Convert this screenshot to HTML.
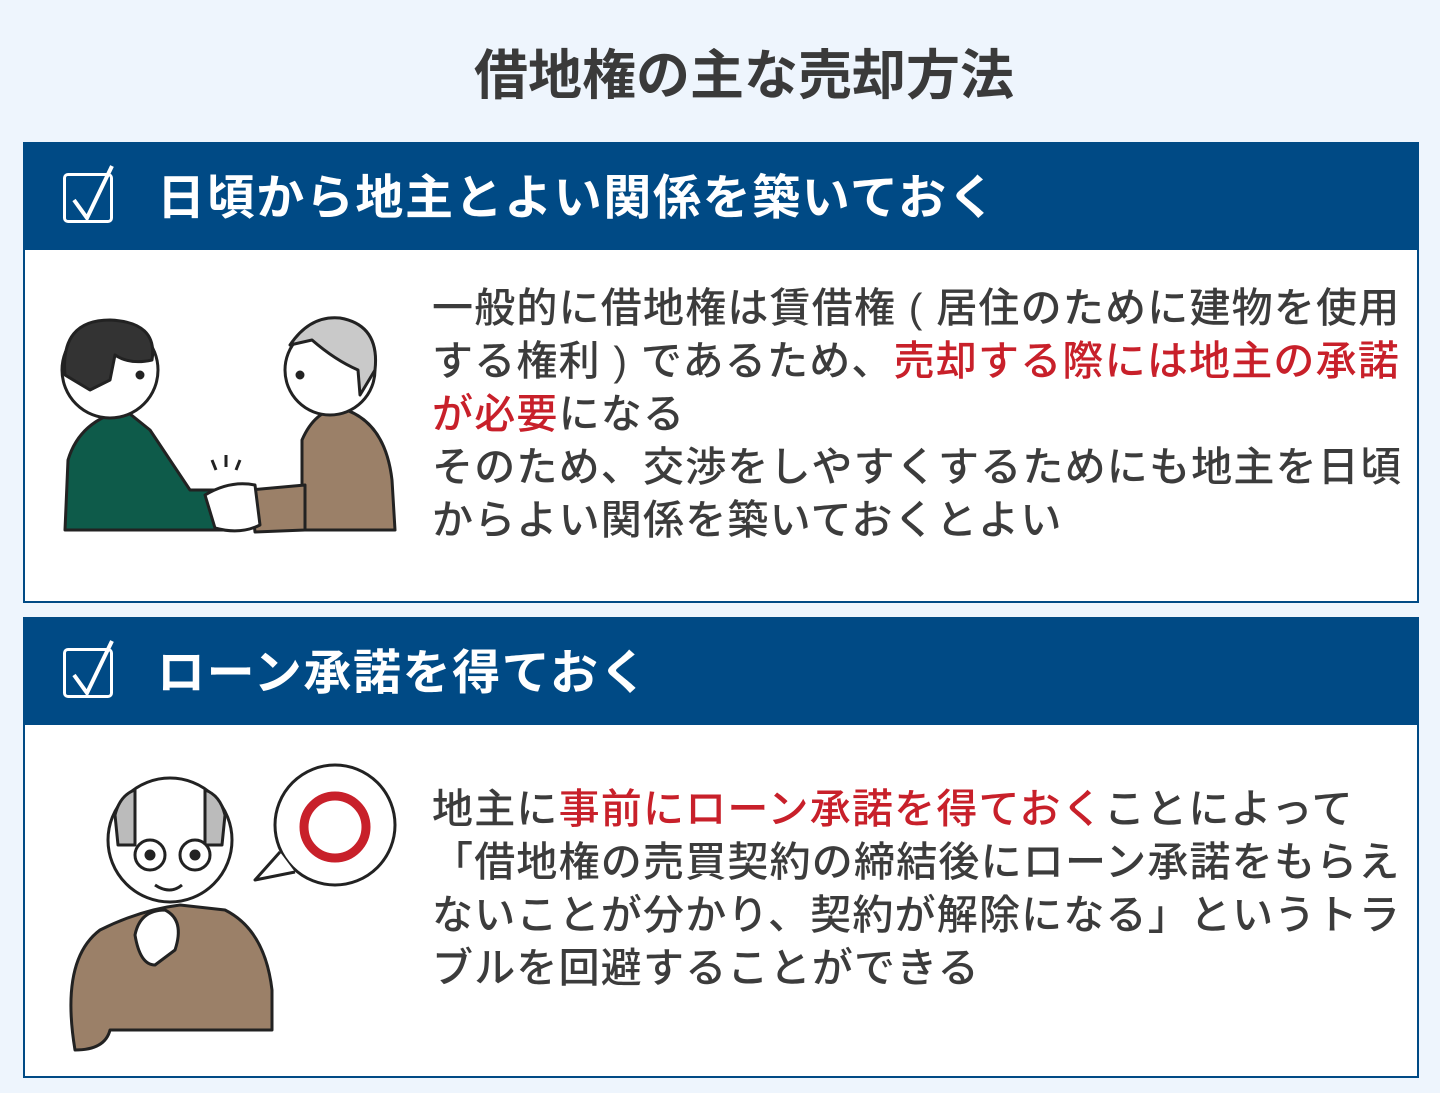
<!DOCTYPE html>
<html><head><meta charset="utf-8"><style>
body{margin:0;width:1440px;height:1093px;background:#eef5fd;position:relative;overflow:hidden;font-family:"Liberation Sans","Noto Sans CJK JP",sans-serif;color:#333}
.t{position:absolute;white-space:nowrap}
.title{left:0;width:1488px;text-align:center;top:31px;font-size:54px;font-weight:bold;color:#3a3a3a}
.hd{position:absolute;left:23px;width:1396px;height:108px;background:#004a85}
.bd{position:absolute;left:23px;width:1392px;background:#fff;border:2px solid #004a85;border-top:none}
.ht{color:#fff;font-size:48px;font-weight:bold;left:157px;letter-spacing:1.6px}
.p{font-size:41px;line-height:53px;left:432px;font-weight:500;color:#3c3c3c;letter-spacing:1.2px}
.r{color:#c8202a}
.cb{position:absolute;left:63px;width:50px;height:50px;border:3px solid #fff;border-radius:5px;box-sizing:border-box}
</style></head><body>
<div class="t title">借地権の主な売却方法</div>

<div class="hd" style="top:142px"></div>
<div class="cb" style="top:173px"></div>
<svg style="position:absolute;left:60px;top:160px" width="70" height="70"><path d="M14 40 L27 58 L52 6" stroke="#fff" stroke-width="4" fill="none"/></svg>
<div class="t ht" style="top:158px">日頃から地主とよい関係を築いておく</div>
<div class="bd" style="top:250px;height:351px"></div>

<div class="hd" style="top:617px"></div>
<div class="cb" style="top:648px"></div>
<svg style="position:absolute;left:60px;top:635px" width="70" height="70"><path d="M14 40 L27 58 L52 6" stroke="#fff" stroke-width="4" fill="none"/></svg>
<div class="t ht" style="top:633px">ローン承諾を得ておく</div>
<div class="bd" style="top:725px;height:351px"></div>

<div class="t p" style="top:282px">一般的に借地権は賃借権 ( 居住のために建物を使用<br>する権利 ) であるため、<span class="r">売却する際には地主の承諾</span><br><span class="r">が必要</span>になる<br>そのため、交渉をしやすくするためにも地主を日頃<br>からよい関係を築いておくとよい</div>

<div class="t p" style="top:783px">地主に<span class="r">事前にローン承諾を得ておく</span>ことによって<br>「借地権の売買契約の締結後にローン承諾をもらえ<br>ないことが分かり、契約が解除になる」というトラ<br>ブルを回避することができる</div>

<svg style="position:absolute;left:40px;top:300px" width="380" height="250" stroke="#222" stroke-width="3" stroke-linejoin="round">
<path d="M25 230 L28 160 Q40 120 85 110 L110 130 L150 190 L180 190 L185 230 Z" fill="#0e5b4a"/>
<circle cx="70" cy="70" r="48" fill="#fff"/>
<path d="M25 75 Q20 20 70 20 Q118 22 112 60 Q90 65 75 55 L70 80 L50 90 Z" fill="#333"/>
<circle cx="100" cy="75" r="3" fill="#222"/>
<path d="M262 230 L262 140 Q275 110 300 108 Q345 120 352 180 L355 230 Z" fill="#9b8068"/>
<path d="M210 190 L265 185 L265 230 L215 232 Z" fill="#9b8068"/>
<circle cx="290" cy="70" r="45" fill="#fff"/>
<path d="M250 45 Q270 15 300 18 Q340 25 335 70 L320 95 L318 70 Q295 60 272 40 Z" fill="#c9c9c9"/>
<circle cx="260" cy="75" r="3" fill="#222"/>
<path d="M165 195 Q190 180 215 185 L220 225 Q200 235 175 228 Z" fill="#fff"/>
<path d="M172 160 l4 10 M186 155 l0 12 M200 160 l-4 10" fill="none"/>
</svg>

<svg style="position:absolute;left:60px;top:760px" width="350" height="300" stroke="#222" stroke-width="3" stroke-linejoin="round">
<path d="M15 290 Q0 200 40 170 Q80 150 120 145 L165 150 Q205 170 212 230 L212 270 L50 270 Q45 290 15 290 Z" fill="#9b8068"/>
<circle cx="110" cy="80" r="62" fill="#fff"/>
<path d="M55 55 Q60 35 75 30 L75 85 L58 85 Z" fill="#bbb"/>
<path d="M165 55 Q160 35 145 30 L145 85 L162 85 Z" fill="#bbb"/>
<circle cx="90" cy="95" r="15" fill="#fff"/><circle cx="135" cy="95" r="15" fill="#fff"/>
<circle cx="90" cy="95" r="4" fill="#222"/><circle cx="135" cy="95" r="4" fill="#222"/>
<path d="M95 125 Q110 135 122 125" fill="none"/>
<path d="M75 175 Q80 150 105 150 Q125 160 115 190 L95 205 Q80 205 75 175 Z" fill="#fff"/>
<circle cx="275" cy="65" r="60" fill="#fff"/>
<path d="M220 92 L195 120 L235 112" fill="#fff"/>
<circle cx="275" cy="67" r="31" fill="none" stroke="#c8202a" stroke-width="9"/>
</svg>
</body></html>
